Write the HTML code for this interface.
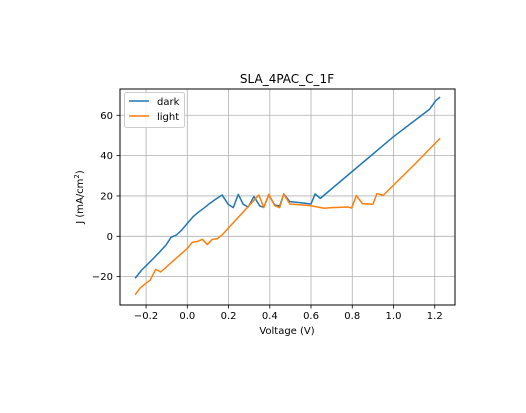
<!DOCTYPE html>
<html><head><meta charset="utf-8"><style>
body{margin:0;background:#fff;font-family:"Liberation Sans","DejaVu Sans",sans-serif}
svg text{font-family:"DejaVu Sans","Liberation Sans",sans-serif;fill:#000}
</style></head><body>
<svg id="chart" width="526" height="408">
<rect x="0" y="0" width="526" height="408" fill="#fff"/>
<g id="grid"></g><g id="series"></g><g id="ticks"></g>
<rect x="120" y="89" width="335" height="216" fill="none" stroke="#000" stroke-width="1"/>
<text x="287" y="83" text-anchor="middle" font-size="12">SLA_4PAC_C_1F</text>
<text x="287" y="334" text-anchor="middle" font-size="10">Voltage (V)</text>
<text transform="translate(83,197) rotate(-90)" text-anchor="middle" font-size="10">J (mA/cm<tspan baseline-shift="super" font-size="7">2</tspan>)</text>
<g>
<rect x="124.5" y="92.5" width="60" height="35" rx="2" fill="#fff" fill-opacity="0.8" stroke="#ccc"/>
<line x1="129" y1="101" x2="149" y2="101" stroke="#1f77b4" stroke-width="1.5"/>
<text x="157" y="105" font-size="10">dark</text>
<line x1="129" y1="116" x2="149" y2="116" stroke="#ff7f0e" stroke-width="1.5"/>
<text x="157" y="120" font-size="10">light</text>
</g>
</svg>
<script>
const xTicks=[-0.2,0.0,0.2,0.4,0.6,0.8,1.0,1.2];
const yTicks=[-20,0,20,40,60];
const darkV=[-0.253,-0.221,-0.18,-0.14,-0.103,-0.079,-0.052,-0.027,0,0.029,0.053,0.081,0.11,0.139,0.169,0.198,0.223,0.247,0.271,0.295,0.323,0.352,0.371,0.395,0.424,0.448,0.468,0.497,0.546,0.6,0.62,0.645,1.0,1.175,1.205,1.226];
const darkJ=[-20.8,-16.7,-12.6,-8.4,-4.3,-0.5,0.7,3.1,6.4,9.8,11.9,14,16.4,18.5,20.5,15.9,14.2,20.8,15.9,14.5,19.7,15,14.4,20.5,15.5,15,21,17.2,16.7,16,21,18.8,49.4,63,67.3,69];
const lightV=[-0.253,-0.23,-0.205,-0.18,-0.153,-0.129,0,0.024,0.048,0.073,0.097,0.121,0.145,0.169,0.347,0.371,0.395,0.424,0.448,0.468,0.497,0.595,0.664,0.7,0.78,0.797,0.82,0.849,0.9,0.92,0.95,1.1,1.226];
const lightJ=[-29,-25.8,-23.6,-21.7,-16.4,-17.7,-6,-3,-2.6,-1.5,-4.1,-1.5,-1.2,0.7,20.5,14.2,20.8,15.2,14.2,21,16,15.2,13.9,14.2,14.5,14,20.2,16.2,15.9,21.2,20.3,35.4,48.6];
const X=v=>187.3+v*206.2, Y=v=>236.3-v*2.017;
const NS="http://www.w3.org/2000/svg";
const grid=document.getElementById('grid'),ticks=document.getElementById('ticks'),ser=document.getElementById('series');
function mk(tag,attrs,parent){const e=document.createElementNS(NS,tag);for(const k in attrs)e.setAttribute(k,attrs[k]);parent.appendChild(e);return e;}
xTicks.forEach(t=>{
 const x=X(t);
 const g=mk('line',{x1:x,x2:x,y1:89,y2:305,stroke:'#b0b0b0','stroke-width':0.8},grid);
 
 
 const tk=mk('line',{x1:x,x2:x,y1:305,y2:308.5,stroke:'#000','stroke-width':0.8},ticks);
 
 
 const l=mk('text',{x:x,y:319,'text-anchor':'middle','font-size':10},ticks);
 l.textContent=(t<0?'\u2212':'')+Math.abs(t).toFixed(1);
 
 
});
yTicks.forEach(t=>{
 const y=Y(t);
 const g=mk('line',{x1:120,x2:455,y1:y,y2:y,stroke:'#b0b0b0','stroke-width':0.8},grid);
 
 
 const tk=mk('line',{x1:116.5,x2:120,y1:y,y2:y,stroke:'#000','stroke-width':0.8},ticks);
 
 
 const l=mk('text',{x:113,y:y+3.5,'text-anchor':'end','font-size':10},ticks);
 l.textContent=(t<0?'\u2212':'')+Math.abs(t);
 
 
});
function line(vs,js,color,name){
 const p=mk('polyline',{points:vs.map((v,i)=>X(v)+','+Y(js[i])).join(' '),fill:'none',stroke:color,'stroke-width':1.5,'stroke-linejoin':'round'},ser);
 
 
}
line(darkV,darkJ,'#1f77b4','dark-line');
line(lightV,lightJ,'#ff7f0e','light-line');
</script>
</body></html>
